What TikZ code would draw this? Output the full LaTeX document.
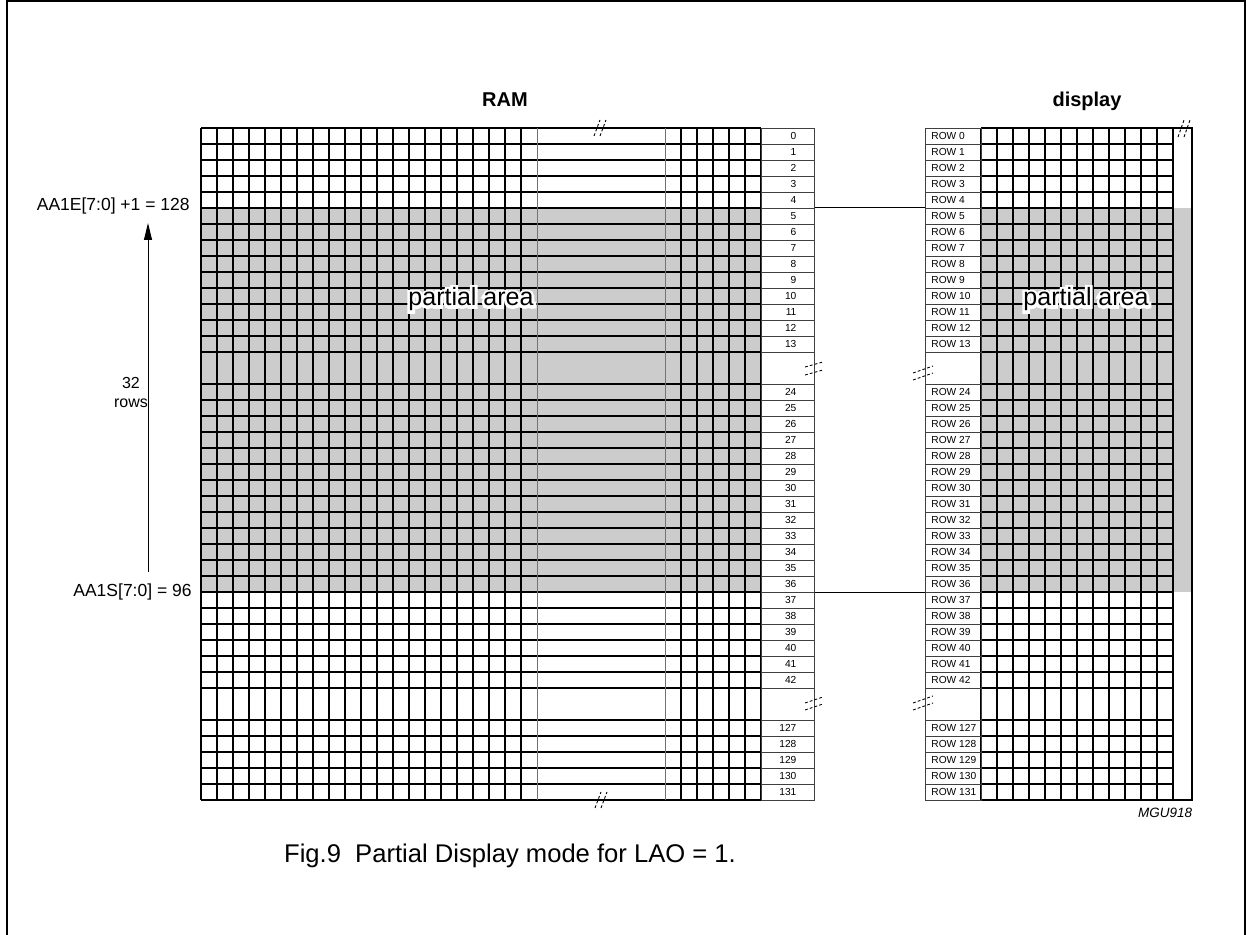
\documentclass[tikz,border=0pt]{standalone}
\usepackage{fontspec}
\setmainfont{Liberation Sans}
\newfontfamily\halofont[FakeBold=22]{Liberation Sans}
\usetikzlibrary{arrows.meta,calc}

\begin{document}
\begin{tikzpicture}[
   x=0.5pt,y=-0.5pt,
   gridline/.style={line width=0.65pt,black},
   gline/.style={line width=0.5pt,black!55},
   boxline/.style={draw=black!75,line width=0.4pt},
   numbox/.style={boxline,anchor=north west,minimum width=26.5pt,minimum height=8pt,inner ysep=0pt,inner xsep=9pt,font=\fontsize{5.1}{6}\selectfont},
   rowbox/.style={boxline,anchor=north west,minimum width=28pt,minimum height=8pt,inner ysep=0pt,inner xsep=3pt,font=\fontsize{5.1}{6}\selectfont},
   brk/.style={line width=0.45pt,dash pattern=on 1.4pt off 1.1pt},
   ramfill/.style={fill=black!20},
   areatext/.style={font=\fontsize{12.5}{14}\selectfont,anchor=base,inner sep=0pt},
   halotext/.style={areatext,text=white,font=\halofont\fontsize{12.5}{14}\selectfont},
   title/.style={font=\bfseries\fontsize{10}{12}\selectfont,anchor=base},
   every node/.style={font=\fontsize{8.75}{10}\selectfont}
 ]
  \useasboundingbox (0,0) rectangle (1247,935);
  \draw[line width=0.6pt] (7,935) -- (7,1) -- (1245,1) -- (1245,935);

  \node[title] (ramtitle) at (505,107) {RAM};
  \node[title] (disptitle) at (1087,107) {display};

  \fill[ramfill] (201,208) rectangle (761,592);
  \fill[ramfill] (981,208) rectangle (1192,592);

  \foreach \y in {128,144,...,352} \draw[gridline] (201,\y) -- (761,\y);
  \foreach \y in {384,400,...,688} \draw[gridline] (201,\y) -- (761,\y);
  \foreach \y in {720,736,...,800} \draw[gridline] (201,\y) -- (761,\y);
  \foreach \x in {201,217,...,521} \draw[gridline] (\x,128) -- (\x,800);
  \foreach \x in {681,697,...,761} \draw[gridline] (\x,128) -- (\x,800);
  \draw[gline] (537,128) -- (537,800);
  \draw[gline] (665,128) -- (665,800);

  \foreach \y in {144,160,...,352} \draw[gridline] (981,\y) -- (1173,\y);
  \foreach \y in {384,400,...,688} \draw[gridline] (981,\y) -- (1173,\y);
  \foreach \y in {720,736,...,784} \draw[gridline] (981,\y) -- (1173,\y);
  \foreach \x in {981,997,...,1173} \draw[gridline] (\x,128) -- (\x,800);
  \draw[gridline] (981,128) -- (1192,128) -- (1192,800) -- (981,800);

  \foreach \r in {0,...,13} \node[numbox] (r\r) at (761,{128+16*\r}) {\makebox[8.5pt][r]{\r}};
  \foreach \r in {24,...,42} \node[numbox] (r\r) at (761,{384+16*(\r-24)}) {\makebox[8.5pt][r]{\r}};
  \foreach \r in {127,...,131} \node[numbox] (r\r) at (761,{720+16*(\r-127)}) {\makebox[8.5pt][r]{\r}};
  \draw[boxline] (761,352) rectangle (814,384);
  \draw[boxline] (761,688) rectangle (814,720);

  \foreach \r in {0,...,13} \node[rowbox] (d\r) at (925,{128+16*\r}) {\makebox[22pt][l]{ROW \r}};
  \foreach \r in {24,...,42} \node[rowbox] (d\r) at (925,{384+16*(\r-24)}) {\makebox[22pt][l]{ROW \r}};
  \foreach \r in {127,...,131} \node[rowbox] (d\r) at (925,{720+16*(\r-127)}) {\makebox[22pt][l]{ROW \r}};
  \draw[boxline] (925,352) rectangle (981,384);
  \draw[boxline] (925,688) rectangle (981,720);

  \draw[line width=0.5pt] (r5.north east) -- (d5.north west);
  \draw[line width=0.5pt] (r36.south east) -- (d36.south west);

  \draw[brk] (594,136) -- (600,120);
  \draw[brk] (600,136) -- (606,120);
  \draw[brk] (595,808) -- (601,792);
  \draw[brk] (601,808) -- (607,792);
  \draw[brk] (1178,137) -- (1184,120);
  \draw[brk] (1184,137) -- (1190,120);
  \draw[brk] (805,367) -- (823,362);
  \draw[brk] (805,375) -- (823,370);
  \draw[brk] (805,703) -- (823,697);
  \draw[brk] (805,710) -- (823,704);
  \draw[brk] (913,373) -- (933,366);
  \draw[brk] (913,380) -- (933,373);
  \draw[brk] (913,703) -- (933,696);
  \draw[brk] (913,710) -- (933,703);

  \node[halotext] (ramhalo) at (471,306) {partial area};
  \node[halotext] (disphalo) at (1086,306) {partial area};
  \node[areatext] (ramarea) at (471,306) {partial area};
  \node[areatext] (disparea) at (1086,306) {partial area};

  \node[anchor=base east,inner sep=0pt] (aae) at (190,211) {AA1E[7:0] +1 = 128};
  \node[anchor=base east,inner sep=0pt] (aas) at (192,596) {AA1S[7:0] = 96};
  \coordinate (arrtop) at (148,223);
  \coordinate (arrbot) at (148,572);
  \draw[line width=0.5pt,-{Triangle[length=8.5pt,width=4pt]}] (arrbot) -- (arrtop);
  \node[align=center,font=\fontsize{8}{9.5}\selectfont] (rows) at (131,392) {32\\rows};

  \node[anchor=base,font=\itshape\fontsize{6.75}{8}\selectfont] (mgu) at (1165,817) {MGU918};
  \node[anchor=base,font=\fontsize{12.8}{15}\selectfont] (caption) at (510,862) {Fig.9\ \ Partial Display mode for LAO = 1.};
\end{tikzpicture}
\end{document}
